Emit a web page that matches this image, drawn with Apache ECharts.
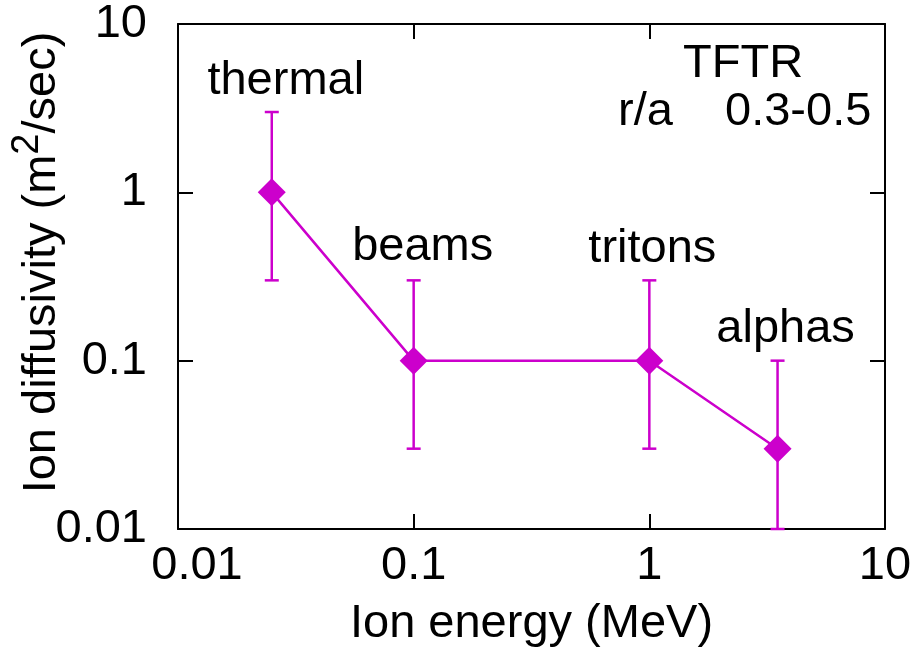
<!DOCTYPE html>
<html>
<head>
<meta charset="utf-8">
<script src="https://cdn.jsdelivr.net/npm/echarts@6/dist/echarts.min.js"></script>
<style>
  html, body { margin: 0; padding: 0; background: #ffffff; }
  #chart { width: 911px; height: 653px; }
</style>
</head>
<body>
<div id="chart"></div>
<script>
// Ion diffusivity versus ion energy, TFTR, r/a = 0.3-0.5
const species = ['thermal', 'beams', 'tritons', 'alphas'];
const energyMeV = [0.025, 0.1, 1, 3.5];
const diffusivity = [1, 0.1, 0.1, 0.03];
const diffusivityLow = [0.3, 0.03, 0.03, 0.01];
const diffusivityHigh = [3, 0.3, 0.3, 0.1];
const xTickLabels = ['0.01', '0.1', '1', '10'];
const yTickLabels = ['0.01', '0.1', '1', '10'];

const MAGENTA = '#CC00CC';
const FONT = '"Liberation Sans", Arial, Helvetica, sans-serif';
const FS = 47;

// label placement for each species name, relative to its point
const nameOffsets = [[14, -111], [9, -114], [3, -112], [8, -120]];

function decadeIndex(v) {
  return Math.round(Math.log10(v)) + 2;
}

const chart = echarts.init(document.getElementById('chart'), null, { renderer: 'canvas' });

const axisLineStyle = { color: '#000', width: 2 };
const tickStyle = { show: true, inside: true, length: 15, lineStyle: { color: '#000', width: 2 } };

const option = {
  animation: false,
  backgroundColor: '#ffffff',
  textStyle: { fontFamily: FONT },
  grid: { left: 178, right: 26, top: 24, bottom: 124, containLabel: false, outerBoundsMode: 'none' },
  xAxis: [
    {
      type: 'log', logBase: 10, min: 0.01, max: 10, splitNumber: 3,
      position: 'bottom',
      name: 'Ion energy (MeV)', nameLocation: 'middle', nameGap: 72,
      nameMoveOverlap: false,
      nameTextStyle: { fontSize: FS, color: '#000', fontFamily: FONT },
      axisLine: { show: true, lineStyle: axisLineStyle },
      axisTick: tickStyle,
      splitLine: { show: false },
      minorTick: { show: false },
      axisLabel: {
        show: true, margin: 14, fontSize: FS, color: '#000', fontFamily: FONT,
        formatter: function (v) {
          const i = decadeIndex(v);
          return i === 0 ? '{lo|' + xTickLabels[i] + '}' : xTickLabels[i];
        },
        rich: { lo: { fontSize: FS, color: '#000', fontFamily: FONT, padding: [0, 0, 0, 38] } }
      }
    },
    {
      type: 'log', logBase: 10, min: 0.01, max: 10, splitNumber: 3,
      position: 'top',
      axisLine: { show: true, lineStyle: axisLineStyle },
      axisTick: tickStyle,
      axisLabel: { show: false },
      splitLine: { show: false }
    }
  ],
  yAxis: [
    {
      type: 'log', logBase: 10, min: 0.01, max: 10, splitNumber: 3,
      position: 'left',
      name: '{t|Ion diffusivity (m}{s|2}{t|/sec)}',
      nameLocation: 'middle', nameGap: 112, nameRotate: 90,
      nameMoveOverlap: false,
      nameTextStyle: {
        color: '#000', fontFamily: FONT, fontSize: FS,
        padding: [0, 0, 0, 28],
        rich: {
          t: { fontSize: FS, color: '#000', fontFamily: FONT, lineHeight: 47 },
          s: { fontSize: 38, color: '#000', fontFamily: FONT, lineHeight: 47, padding: [0, 0, 30, 0] }
        }
      },
      axisLine: { show: true, lineStyle: axisLineStyle },
      axisTick: tickStyle,
      splitLine: { show: false },
      axisLabel: {
        show: true, margin: 31, fontSize: FS, color: '#000', fontFamily: FONT,
        formatter: function (v) { return yTickLabels[decadeIndex(v)]; }
      }
    },
    {
      type: 'log', logBase: 10, min: 0.01, max: 10, splitNumber: 3,
      position: 'right',
      axisLine: { show: true, lineStyle: axisLineStyle },
      axisTick: tickStyle,
      axisLabel: { show: false },
      splitLine: { show: false }
    }
  ],
  series: [
    {
      name: 'error range',
      type: 'custom',
      xAxisIndex: 0, yAxisIndex: 0,
      z: 2,
      data: energyMeV.map((e, i) => [e, diffusivityLow[i], diffusivityHigh[i]]),
      encode: { x: 0, y: [1, 2] },
      renderItem: function (params, api) {
        const x = api.value(0);
        const pLo = api.coord([x, api.value(1)]);
        const pHi = api.coord([x, api.value(2)]);
        const half = 7;
        const style = { stroke: MAGENTA, lineWidth: 2.5 };
        return {
          type: 'group',
          children: [
            { type: 'line', shape: { x1: pLo[0], y1: pLo[1], x2: pHi[0], y2: pHi[1] }, style: style },
            { type: 'line', shape: { x1: pLo[0] - half, y1: pLo[1], x2: pLo[0] + half, y2: pLo[1] }, style: style },
            { type: 'line', shape: { x1: pHi[0] - half, y1: pHi[1], x2: pHi[0] + half, y2: pHi[1] }, style: style }
          ]
        };
      }
    },
    {
      name: 'diffusivity',
      type: 'line',
      xAxisIndex: 0, yAxisIndex: 0,
      z: 3,
      symbol: 'diamond',
      symbolSize: 28,
      showAllSymbol: true,
      lineStyle: { color: MAGENTA, width: 2.5 },
      itemStyle: { color: MAGENTA },
      data: energyMeV.map((e, i) => ({
        value: [e, diffusivity[i]],
        name: species[i],
        label: {
          show: true,
          position: 'inside',
          offset: nameOffsets[i],
          formatter: species[i],
          fontSize: FS,
          color: '#000',
          fontFamily: FONT
        }
      }))
    }
  ],
  graphic: [
    { type: 'text', left: 683, top: 80 - 16 - 23, style: { text: 'TFTR', font: FS + 'px ' + FONT, fill: '#000' } },
    { type: 'text', left: 618, top: 128 - 16 - 23, style: { text: 'r/a', font: FS + 'px ' + FONT, fill: '#000' } },
    { type: 'text', left: 725, top: 128 - 16 - 23, style: { text: '0.3-0.5', font: FS + 'px ' + FONT, fill: '#000' } }
  ]
};

chart.setOption(option);
</script>
</body>
</html>
